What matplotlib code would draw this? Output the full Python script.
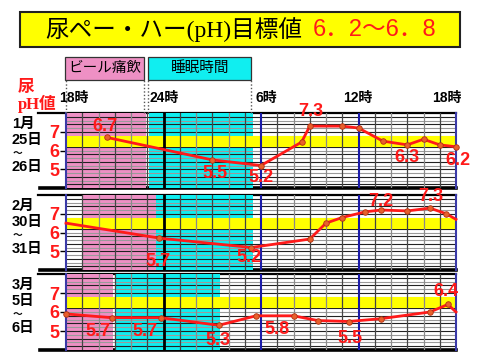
import matplotlib
matplotlib.use('Agg')
import matplotlib.pyplot as plt
from matplotlib.patches import Rectangle
from matplotlib.lines import Line2D
from matplotlib.transforms import blended_transform_factory

W, H = 480, 360
JP = ['Noto Sans CJK JP']
SANS_JP = ['Liberation Sans', 'Noto Sans CJK JP']
SERIF_JP = ['Liberation Serif', 'Noto Sans CJK JP']

# ---------------- data ----------------
title_main = '尿ペー・ハー(pH)目標値'
title_target = '6．2〜6．8'
drink_label = 'ビール痛飲'
sleep_label = '睡眠時間'
time_ticks = [18, 24, 30, 36, 42]
time_labels = ['18時', '24時', '6時', '12時', '18時']
target_low, target_high = 6.2, 6.8
ph_ticks = [5, 6, 7]

panel_months = ['1月', '2月', '3月']
panel_day1 = ['25日', '30日', '5日']
panel_day2 = ['26日', '31日', '6日']

drink_spans = [(18.0, 22.95), (19.0, 23.55), (18.0, 20.9)]
sleep_spans = [(23.1, 29.5), (23.55, 29.5), (21.1, 27.5)]

p1_hours = [20.5, 27.0, 30.0, 32.5, 33.0, 35.0, 36.0, 37.5, 39.0, 40.0, 41.0, 42.0]
p1_ph = [6.7, 5.5, 5.2, 6.45, 7.3, 7.3, 7.2, 6.5, 6.3, 6.6, 6.3, 6.2]
p2_hours = [18.0, 23.75, 29.4, 33.0, 34.0, 35.0, 36.4, 37.4, 39.0, 40.4, 41.4, 42.0]
p2_ph = [6.5, 5.7, 5.2, 5.65, 6.5, 6.8, 7.1, 7.2, 7.15, 7.3, 7.0, 6.7]
p3_hours = [18.0, 20.8, 23.85, 27.4, 29.7, 32.0, 33.5, 35.4, 37.4, 40.4, 41.5, 42.0]
p3_ph = [5.9, 5.7, 5.7, 5.3, 5.8, 5.8, 5.55, 5.5, 5.65, 6.0, 6.4, 6.0]

p1_labeled = [0, 1, 2, 4, 8, 11]
p2_labeled = [1, 2, 7, 9]
p3_labeled = [1, 2, 3, 4, 7, 10]

# ---------------- layout ----------------
panel_px = [(113, 188), (195, 270), (274, 350)]   # top, bottom in pixels
x_left, x_right = 66, 456
p1_offsets = [(-2, 11), (3, -14), (0, -12), (1, 15), (0, -13), (2, -14)]
p2_offsets = [(-1, -23), (-2, -10), (0, 9), (1, 12)]
p3_offsets = [(-14, -14), (-16, -14), (-1, -15), (21, -14), (1, -17), (-2, 13)]
p_marks = [slice(0, 12), slice(1, 11), slice(0, 11)]

series = [(p1_hours, p1_ph, p1_labeled, p1_offsets),
          (p2_hours, p2_ph, p2_labeled, p2_offsets),
          (p3_hours, p3_ph, p3_labeled, p3_offsets)]

PINK = '#ee90c4'
CYAN = '#10eef0'
RED = '#ff1a1a'

fig = plt.figure(figsize=(W / 100, H / 100), dpi=100)
fig.patch.set_facecolor('white')

ov = fig.add_axes([0, 0, 1, 1])
ov.set_xlim(0, W)
ov.set_ylim(H, 0)
ov.axis('off')
ov.set_zorder(0)

# title
ov.add_patch(Rectangle((20, 12), 440, 35, facecolor='#ffff00', edgecolor='#222222', lw=1.5))
ov.text(45, 30, title_main, fontsize=17, family=SERIF_JP, color='black', ha='left', va='center')
ov.text(313, 30, title_target, fontsize=17, family=SANS_JP, color=RED, ha='left', va='center')

# y-axis title
ov.text(26, 87, '尿', fontsize=12, family=JP, fontweight='bold', color=RED, ha='center', va='center')
ov.text(37, 104, 'pH値', fontsize=12, family=SERIF_JP, fontweight='bold', color=RED, ha='center', va='center')

# time labels
time_px_centers = [74, 164, 266, 358, 447]
for lab, xc in zip(time_labels, time_px_centers):
    ov.text(xc, 98, lab, fontsize=10, family=SANS_JP, fontweight='bold', color='black', ha='center', va='center')

axes = []
for i, (top, bot) in enumerate(panel_px):
    ax = fig.add_axes([x_left / W, 1 - bot / H, (x_right - x_left) / W, (bot - top) / H])
    ax.set_zorder(1)
    ax.set_facecolor('none')
    ax.set_xlim(18, 42)
    ax.set_ylim(4, 8)
    axes.append(ax)

    ds, de = drink_spans[i]
    ss, se = sleep_spans[i]
    ax.axvspan(ds, de, color=PINK, zorder=0, lw=0)
    ax.axvspan(ss, se, color=CYAN, zorder=0, lw=0)

    # horizontal grid
    for k in range(1, 20):
        y = 4 + 0.2 * k
        ax.axhline(y, color='#222222' if k % 2 else '#9a9a9a', lw=0.8, zorder=1)
    ax.axhspan(target_low, target_high, color='#ffff00', lw=0, zorder=2)
    # vertical grid
    for h in range(19, 42):
        if h == 24:
            ax.axvline(h, color='black', lw=2.0, zorder=3)
        elif h in (30, 36):
            ax.axvline(h, color='#1a1aa8', lw=1.5, zorder=3)
        else:
            ax.axvline(h, color='#444444' if h % 2 else '#8a8a8a', lw=0.9, zorder=3)

    for s in ['top', 'bottom']:
        ax.spines[s].set_visible(False)
    ax.spines['left'].set_color('#3a3aa8')
    ax.spines['left'].set_linewidth(1.5)
    ax.spines['right'].set_color('#3a3aa8')
    ax.spines['right'].set_linewidth(1.5)

    ax.set_xticks([])
    ax.set_yticks(ph_ticks)
    ax.set_yticklabels([str(t) for t in ph_ticks], color=RED, fontsize=13,
                       fontweight='bold', family='Liberation Sans')
    ax.tick_params(axis='y', length=4, width=1, color='black', pad=1)

    hrs, phs, labeled, offs = series[i]
    ax.plot(hrs, phs, color=RED, lw=2, zorder=5, clip_on=False)
    ax.plot(hrs[p_marks[i]], phs[p_marks[i]], ls='none', marker='o', ms=4,
            mfc='#e8602c', mec='#b03010', mew=0.6, zorder=6, clip_on=False)
    for idx, (dx, dy) in zip(labeled, offs):
        ax.annotate(f'{phs[idx]:.1f}', (hrs[idx], phs[idx]), xytext=(dx, dy),
                    textcoords='offset pixels', ha='center', va='center',
                    fontsize=13, fontweight='bold', color=RED, family='Liberation Sans',
                    zorder=7, annotation_clip=False)

    # frame lines
    ov.add_line(Line2D([38, 456], [top, top], color='black', lw=1.6))
    ov.add_line(Line2D([40, 456], [bot, bot], color='black', lw=2.6))

    # left labels
    ov.text(12, top + 11, panel_months[i], fontsize=10.5, family=SANS_JP, fontweight='bold', ha='left', va='center')
    ov.text(12, top + 27, panel_day1[i], fontsize=10.5, family=SANS_JP, fontweight='bold', ha='left', va='center')
    ov.text(13, top + 40, '〜', fontsize=7, family=JP, fontweight='bold', ha='left', va='center')
    ov.text(12, top + 54, panel_day2[i], fontsize=10.5, family=SANS_JP, fontweight='bold', ha='left', va='center')

# header boxes above first panel
ax0 = axes[0]
tr = blended_transform_factory(ax0.transData, ax0.transAxes)
ds, de = drink_spans[0]
ss, se = sleep_spans[0]
box_lo, box_hi = 1.44, 1.75
ax0.add_patch(Rectangle((ds - 0.08, box_lo), de - ds - 0.08, box_hi - box_lo, transform=tr,
                        facecolor=PINK, edgecolor='#333333', lw=0.9, clip_on=False))
ax0.add_patch(Rectangle((ss - 0.05, box_lo), se - ss - 0.05, box_hi - box_lo, transform=tr,
                        facecolor=CYAN, edgecolor='#333333', lw=0.9, clip_on=False))
ax0.text((ds + de) / 2 - 0.1, (box_lo + box_hi) / 2, drink_label, transform=tr, fontsize=10.5,
         family=JP, ha='center', va='center', clip_on=False)
ax0.text((ss + se) / 2 - 0.05, (box_lo + box_hi) / 2, sleep_label, transform=tr, fontsize=10.5,
         family=JP, ha='center', va='center', clip_on=False)
for xv in [ds, de - 0.16, ss - 0.05, se - 0.1]:
    ax0.plot([xv, xv], [1.0, box_lo], transform=tr, color='#555555', lw=1, ls=(0, (1, 1.5)),
             clip_on=False, zorder=4)

fig.savefig('out.png', dpi=100)
